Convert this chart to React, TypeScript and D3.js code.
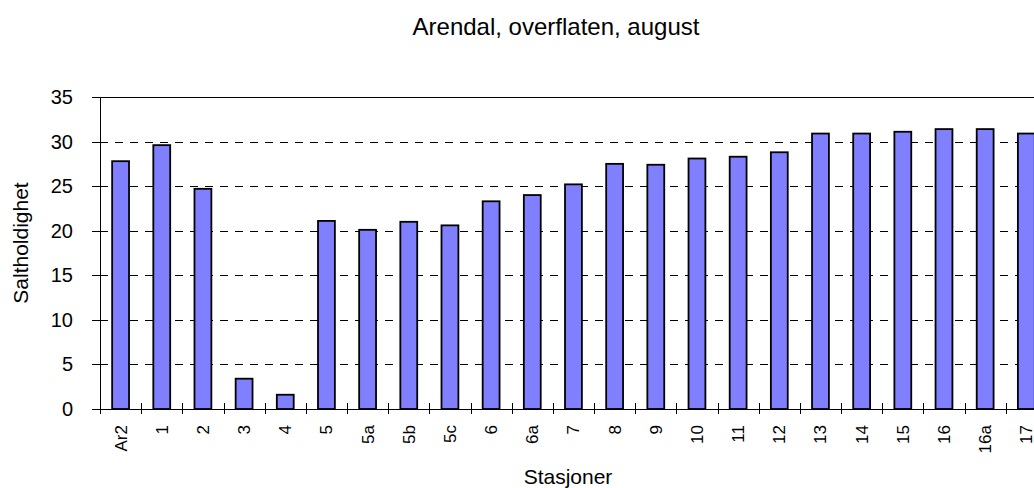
import React from "react";
import * as d3 from "d3";

const categories = ["Ar2", "1", "2", "3", "4", "5", "5a", "5b", "5c", "6", "6a", "7", "8", "9", "10", "11", "12", "13", "14", "15", "16", "16a", "17"];
const salinity = [27.8, 29.6, 24.7, 3.4, 1.6, 21.1, 20.1, 21.0, 20.6, 23.3, 24.0, 25.2, 27.5, 27.4, 28.1, 28.3, 28.8, 30.9, 30.9, 31.1, 31.4, 31.4, 30.9];
const yTicks = [0, 5, 10, 15, 20, 25, 30, 35];
const title = "Arendal, overflaten, august";
const yTitle = "Saltholdighet";
const xTitle = "Stasjoner";

const W = 1034;
const H = 488;
const left = 100;
const top = 97;
const bottom = 409;
const step = 41.17;

export default function App() {
  const x = d3.scaleBand<string>().domain(categories).range([left, left + step * categories.length]).padding(0);
  const y = d3.scaleLinear().domain([0, 35]).range([bottom, top]);
  const bw = x.bandwidth() * 0.41;
  const font = "Arial, 'Liberation Sans', Helvetica, sans-serif";
  const right = left + step * categories.length;

  return (
    <svg width={W} height={H} style={{ position: "absolute", left: 0, top: 0, background: "#fff" }} fontFamily={font}>
      <rect x={0} y={0} width={W} height={H} fill="#fff" />
      <text x={556} y={35} fontSize={24} textAnchor="middle" fill="#000">{title}</text>
      {yTicks.filter((t) => t > 0 && t < 35).map((t) => (
        <line key={"g" + t} x1={left} x2={right} y1={Math.round(y(t)) + 0.5} y2={Math.round(y(t)) + 0.5} stroke="#000" strokeWidth={1} strokeDasharray="8,7" />
      ))}
      <line x1={left} x2={right} y1={top + 0.5} y2={top + 0.5} stroke="#000" strokeWidth={1} />
      {categories.map((c, i) => {
        const cx = (x(c) as number) + x.bandwidth() / 2;
        return (
          <rect key={"b" + c} x={cx - bw / 2} y={y(salinity[i])} width={bw} height={y(0) - y(salinity[i])} fill="#8080FF" stroke="#000" strokeWidth={1.8} />
        );
      })}
      <line x1={left + 0.5} x2={left + 0.5} y1={top} y2={bottom + 5} stroke="#000" strokeWidth={1} />
      <line x1={left} x2={right} y1={bottom + 0.5} y2={bottom + 0.5} stroke="#000" strokeWidth={1} />
      {yTicks.map((t) => (
        <g key={"yt" + t}>
          <line x1={left - 8} x2={t === 35 ? left : left + 8} y1={Math.round(y(t)) + 0.5} y2={Math.round(y(t)) + 0.5} stroke="#000" strokeWidth={1} />
          <text x={73} y={y(t)} dy="0.35em" fontSize={20} textAnchor="end" fill="#000">{t}</text>
        </g>
      ))}
      {categories.map((c, i) => (
        <line key={"xt" + c} x1={Math.round(x(c) as number) + 0.5} x2={Math.round(x(c) as number) + 0.5} y1={bottom - 6} y2={bottom + 5} stroke="#000" strokeWidth={1} />
      ))}
      {categories.map((c) => {
        const cx = (x(c) as number) + x.bandwidth() / 2;
        return (
          <text key={"xl" + c} transform={`translate(${cx},425) rotate(-90)`} dy="0.35em" fontSize={17} textAnchor="end" fill="#000">{c}</text>
        );
      })}
      <text x={568} y={484} fontSize={21} textAnchor="middle" fill="#000">{xTitle}</text>
      <text transform={`translate(28,243) rotate(-90)`} fontSize={21} textAnchor="middle" fill="#000">{yTitle}</text>
    </svg>
  );
}
